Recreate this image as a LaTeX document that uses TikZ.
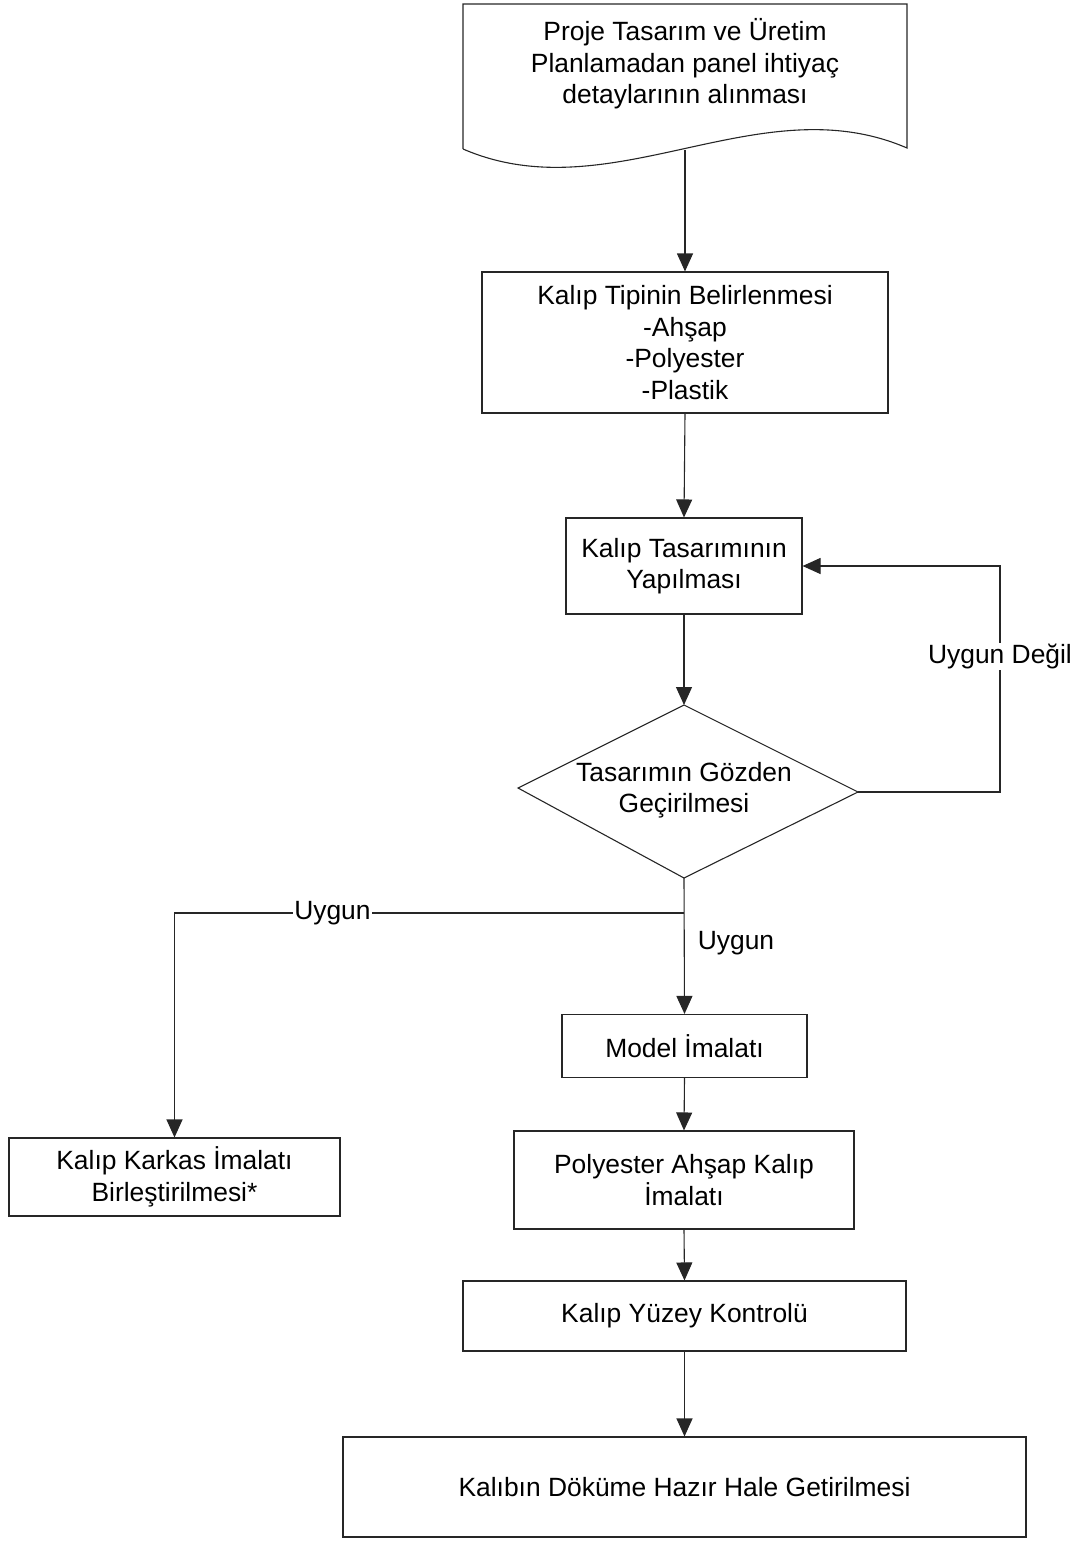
\documentclass[tikz,border=0pt]{standalone}
\usepackage{fontspec}
\setmainfont{Liberation Sans}
\usetikzlibrary{arrows.meta}
\begin{document}
\begin{tikzpicture}[x=1pt,y=-1pt,
  every node/.style={font=\fontsize{26.4}{31.5}\selectfont, align=center, inner sep=0pt},
  box/.style={draw=black!85, line width=1.1pt, fill=white},
  link/.style={draw=black!85, line width=1.1pt, -{Triangle[length=18pt,width=16pt]}},
  plain/.style={draw=black!85, line width=1.1pt},
  lbl/.style={fill=white, inner sep=1pt}]
  \useasboundingbox (0,0) rectangle (1081,1541);

  % document shape with a wavy lower edge
  \draw[plain] (463,149) -- (463,4) -- (907,4) -- (907,148)
     .. controls (759,84) and (611,213) .. (463,149);
  \node (doc) at (685,64) {Proje Tasarım ve Üretim\\Planlamadan panel ihtiyaç\\detaylarının alınması};
  \coordinate (docb) at (685,150);

  \node[box, minimum width=406pt, minimum height=141pt] (tip) at (685,342.5)
    {Kalıp Tipinin Belirlenmesi\\-Ahşap\\-Polyester\\-Plastik};
  \node[box, minimum width=236pt, minimum height=96pt] (tas) at (684,566)
    {Kalıp Tasarımının\\Yapılması};

  % decision diamond, drawn from its four corners
  \coordinate (revN) at (684,705);
  \coordinate (revE) at (858,792);
  \coordinate (revS) at (684,878);
  \coordinate (revW) at (518,788);
  \draw[plain] (revN) -- (revE) -- (revS) -- (revW) -- cycle;
  \node (rev) at (684,790) {Tasarımın Gözden\\Geçirilmesi};

  \node[box, minimum width=245pt, minimum height=63pt] (mod) at (684.5,1046)
    {Model İmalatı};
  \node[box, minimum width=340pt, minimum height=98pt] (pol) at (684,1180)
    {Polyester Ahşap Kalıp\\İmalatı};
  \node[box, minimum width=331pt, minimum height=78pt] (kar) at (174.5,1177)
    {Kalıp Karkas İmalatı\\Birleştirilmesi*};
  \node[box, minimum width=443pt, minimum height=70pt] (yuz) at (684.5,1316)
    {Kalıp Yüzey Kontrolü};
  \node[box, minimum width=683pt, minimum height=100pt] (son) at (684.5,1487)
    {Kalıbın Döküme Hazır Hale Getirilmesi};

  \coordinate (loop) at (1000,792);
  \coordinate (split) at (684,913);
  \coordinate (corner) at (174.5,913);

  \draw[link] (docb) -- (tip.north);
  \draw[link] (tip.south) -- (tas.north);
  \draw[link] (tas.south) -- (revN);
  \draw[link] (revE) -- (loop) |- node[pos=0.3, lbl] {Uygun Değil} (tas.east);
  \draw[link] (revS) -- (mod.north);
  \node (ok) at (736,943) {Uygun};
  \draw[link] (split) -- node[pos=0.69, lbl] {Uygun} (corner) -- (kar.north);
  \draw[link] (mod.south) -- (pol.north);
  \draw[link] (pol.south) -- (yuz.north);
  \draw[link] (yuz.south) -- (son.north);
\end{tikzpicture}
\end{document}
